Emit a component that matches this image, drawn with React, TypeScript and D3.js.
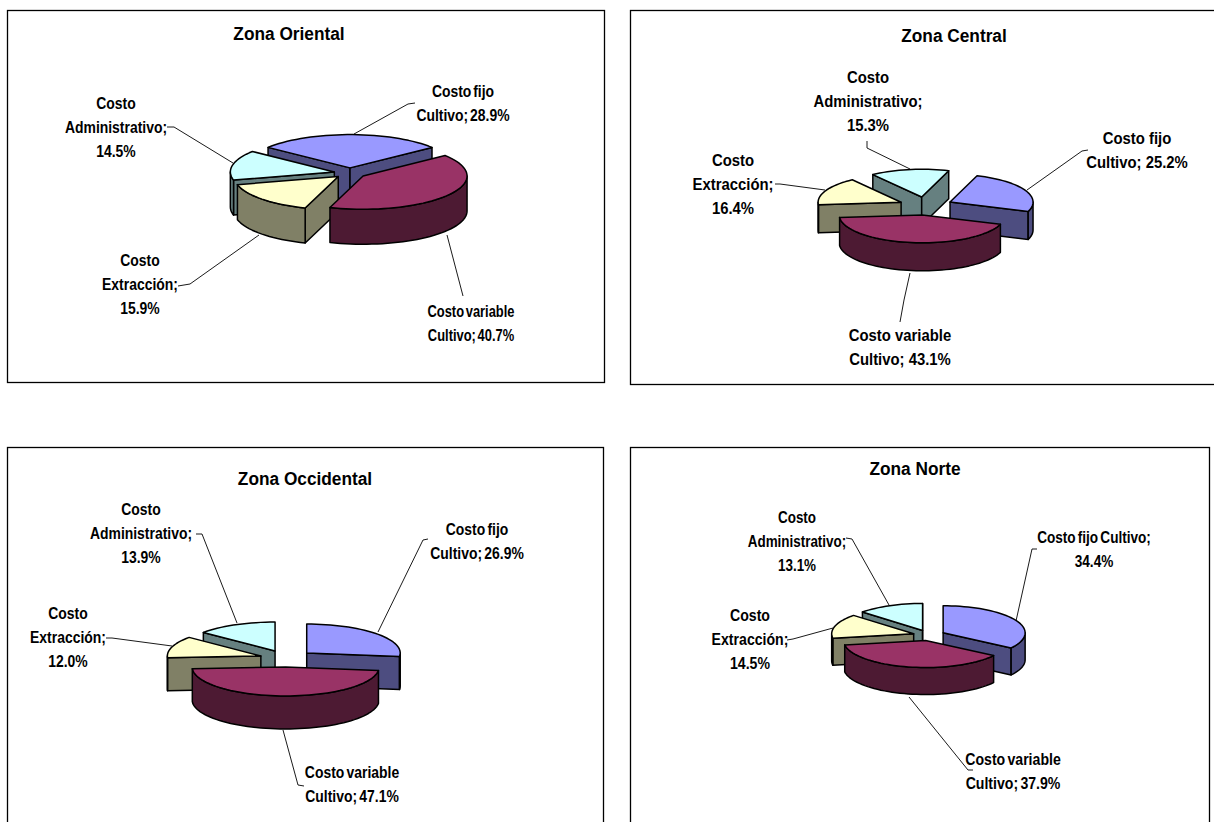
import React from "react";
import * as d3 from "d3";

// Cost shares per zone, in percent, in the order the slices run clockwise.
const categories = ["Costo fijo Cultivo", "Costo variable Cultivo", "Costo Extracción", "Costo Administrativo"];
const valuesOriental = [28.9, 40.7, 15.9, 14.5];
const valuesCentral = [25.2, 43.1, 16.4, 15.3];
const valuesOccidental = [26.9, 47.1, 12.0, 13.9];
const valuesNorte = [34.4, 37.9, 14.5, 13.1];

const topColors = ["#9999FF", "#993366", "#FFFFCC", "#CCFFFF"];
const sideColors = ["#4D4D80", "#4D1A33", "#808066", "#668080"];
// Far slices first so the large front slice overlaps its neighbours.
const paintOrder = [0, 3, 2, 1];

type Label = { x: number; y: number; lines: string[]; leader: [number, number][]; squeeze?: number };
type Panel = {
  title: string;
  titleX: number;
  titleY: number;
  values: number[];
  frame: { x0: number; y0: number; x1: number; y1: number };
  pie: { cx: number; cy: number; r: number; k: number; depth: number; explode: number; start: number };
  squeeze: number;
  wordGap: number;
  labels: Label[];
};

const panels: Panel[] = [
  {
    title: "Zona Oriental",
    titleX: 289,
    titleY: 40,
    values: valuesOriental,
    frame: { x0: 7.5, y0: 10.5, x1: 604.5, y1: 382.5 },
    pie: { cx: 350, cy: 173, r: 104, k: 0.32, depth: 35, explode: 16, start: -52 },
    squeeze: 0.82,
    wordGap: -2.5,
    labels: [
      { x: 463, y: 97, lines: ["Costo fijo", "Cultivo; %v"], leader: [[354, 134], [408, 104], [415, 103]] },
      { x: 471, y: 317, lines: ["Costo variable", "Cultivo; %v"], leader: [[447, 235], [463, 296]], squeeze: 0.76 },
      { x: 140, y: 266, lines: ["Costo", "Extracción;", "%v"], leader: [[259, 235], [190, 284], [178, 286]] },
      { x: 116, y: 109, lines: ["Costo", "Administrativo;", "%v"], leader: [[233, 163], [174, 127], [167, 127]] },
    ],
  },
  {
    title: "Zona Central",
    titleX: 954,
    titleY: 42,
    values: valuesCentral,
    frame: { x0: 630.5, y0: 10.5, x1: 1220, y1: 384.5 },
    pie: { cx: 925.7, cy: 206, r: 83, k: 0.335, depth: 28, explode: 27, start: 19 },
    squeeze: 0.875,
    wordGap: 0,
    labels: [
      { x: 1137, y: 144, lines: ["Costo fijo", "Cultivo; %v"], leader: [[1027, 190], [1082, 151], [1088, 150]] },
      { x: 900, y: 341, lines: ["Costo variable", "Cultivo; %v"], leader: [[910, 273], [904, 300], [900, 322]] },
      { x: 733, y: 166, lines: ["Costo", "Extracción;", "%v"], leader: [[825, 190], [780, 184], [775, 184]] },
      { x: 868, y: 83, lines: ["Costo", "Administrativo;", "%v"], leader: [[910, 169], [867, 148], [867, 141]] },
    ],
  },
  {
    title: "Zona Occidental",
    titleX: 305,
    titleY: 485,
    values: valuesOccidental,
    frame: { x0: 7.5, y0: 447.5, x1: 603.5, y1: 830 },
    pie: { cx: 286.5, cy: 658.6, r: 93.5, k: 0.31, depth: 33, explode: 27, start: 0 },
    squeeze: 0.82,
    wordGap: -2,
    labels: [
      { x: 477, y: 535, lines: ["Costo fijo", "Cultivo; %v"], leader: [[378, 632], [423, 540], [428, 539]] },
      { x: 352, y: 778, lines: ["Costo variable", "Cultivo; %v"], leader: [[283, 730], [298, 785], [304, 786]] },
      { x: 68, y: 619, lines: ["Costo", "Extracción;", "%v"], leader: [[172, 646], [112, 638], [106, 638]] },
      { x: 141, y: 515, lines: ["Costo", "Administrativo;", "%v"], leader: [[237, 623], [202, 534], [196, 534]] },
    ],
  },
  {
    title: "Zona Norte",
    titleX: 915,
    titleY: 475,
    values: valuesNorte,
    frame: { x0: 630.5, y0: 447.5, x1: 1209.5, y1: 830 },
    pie: { cx: 929, cy: 635.3, r: 82, k: 0.33, depth: 27, explode: 16, start: 0 },
    squeeze: 0.83,
    wordGap: -2,
    labels: [
      { x: 1094, y: 543, lines: ["Costo fijo Cultivo;", "%v"], leader: [[1016, 621], [1032, 549], [1037, 549]], squeeze: 0.8 },
      { x: 1013, y: 765, lines: ["Costo variable", "Cultivo; %v"], leader: [[909, 697], [968, 770], [973, 770]] },
      { x: 750, y: 621, lines: ["Costo", "Extracción;", "%v"], leader: [[833, 628], [793, 639], [787, 640]] },
      { x: 797, y: 523, lines: ["Costo", "Administrativo;", "%v"], leader: [[889, 605], [852, 539], [846, 538]], squeeze: 0.79 },
    ],
  },
];

const FONT = "'Liberation Sans', Arial, sans-serif";
const lineHeight = 24;
const leaderPath = d3.line();

// One exploded wedge seen in oblique projection: visible radial walls, rim wall, then top face.
function Wedge({ arc, index, pie: p }: { arc: d3.PieArcDatum<number>; index: number; pie: Panel["pie"] }) {
  const mid = (arc.startAngle + arc.endAngle) / 2;
  const ox = p.cx + p.explode * Math.sin(mid);
  const oy = p.cy - p.explode * p.k * Math.cos(mid);
  const project = (a: number, r: number, drop = 0): [number, number] => [
    ox + r * Math.sin(a),
    oy - r * p.k * Math.cos(a) + drop,
  ];
  const sweep = (from: number, to: number, drop = 0) => {
    const steps = Math.max(2, Math.ceil(((to - from) * 180) / Math.PI / 3));
    return d3.range(steps + 1).map((i) => project(from + ((to - from) * i) / steps, p.r, drop));
  };
  const stroke = { stroke: "#000", strokeWidth: 1.5, strokeLinejoin: "round" as const };
  const poly = d3.line();

  const radial = (a: number) => [
    project(a, 0),
    project(a, p.r),
    project(a, p.r, p.depth),
    project(a, 0, p.depth),
  ] as [number, number][];

  // The rim is only seen where it faces the viewer: angles between 90° and 270°, modulo a turn.
  const rims: [number, number][] = [];
  for (const turn of [-2, 0, 2]) {
    const lo = Math.max(arc.startAngle, Math.PI / 2 + turn * Math.PI);
    const hi = Math.min(arc.endAngle, (3 * Math.PI) / 2 + turn * Math.PI);
    if (hi > lo) rims.push([lo, hi]);
  }

  const top = [project(0, 0), ...sweep(arc.startAngle, arc.endAngle)] as [number, number][];

  return (
    <g>
      {Math.sin(arc.startAngle) < 0 && (
        <path d={poly(radial(arc.startAngle)) + "Z"} fill={sideColors[index]} {...stroke} />
      )}
      {Math.sin(arc.endAngle) > 0 && (
        <path d={poly(radial(arc.endAngle)) + "Z"} fill={sideColors[index]} {...stroke} />
      )}
      {rims.map(([lo, hi], i) => (
        <path
          key={i}
          d={poly([...sweep(lo, hi), ...sweep(lo, hi, p.depth).reverse()]) + "Z"}
          fill={sideColors[index]}
          {...stroke}
        />
      ))}
      <path d={poly(top) + "Z"} fill={topColors[index]} {...stroke} />
    </g>
  );
}

function PanelView({ panel }: { panel: Panel }) {
  const { frame: f, pie: p } = panel;
  const start = (p.start * Math.PI) / 180;
  const arcs = d3
    .pie<number>()
    .sort(null)
    .value((d) => d)
    .startAngle(start)
    .endAngle(start + 2 * Math.PI)(panel.values);

  return (
    <g>
      <rect x={f.x0} y={f.y0} width={f.x1 - f.x0} height={f.y1 - f.y0} fill="#fff" stroke="#000" strokeWidth={1.3} />
      <text
        transform={`translate(${panel.titleX},${panel.titleY}) scale(0.96,1)`}
        textAnchor="middle"
        fontFamily={FONT}
        fontWeight="bold"
        fontSize={18}
      >
        {panel.title}
      </text>
      {panel.labels.map((l, i) => (
        <path key={i} d={leaderPath(l.leader) ?? ""} fill="none" stroke="#000" strokeWidth={0.9} />
      ))}
      {paintOrder.map((i) => (
        <Wedge key={categories[i]} arc={arcs[i]} index={i} pie={p} />
      ))}
      {panel.labels.map((l, i) =>
        l.lines.map((line, j) => (
          <text
            key={`${i}-${j}`}
            transform={`translate(${l.x},${l.y + j * lineHeight}) scale(${l.squeeze ?? panel.squeeze},1)`}
            textAnchor="middle"
            fontFamily={FONT}
            fontWeight="bold"
            fontSize={17}
            wordSpacing={panel.wordGap}
            fill="#000"
          >
            {line.replace("%v", `${panel.values[i].toFixed(1)}%`)}
          </text>
        )),
      )}
    </g>
  );
}

export default function App() {
  return (
    <svg
      width={1214}
      height={822}
      viewBox="0 0 1214 822"
      style={{ position: "absolute", left: 0, top: 0, background: "#fff" }}
    >
      {panels.map((panel) => (
        <PanelView key={panel.title} panel={panel} />
      ))}
    </svg>
  );
}
